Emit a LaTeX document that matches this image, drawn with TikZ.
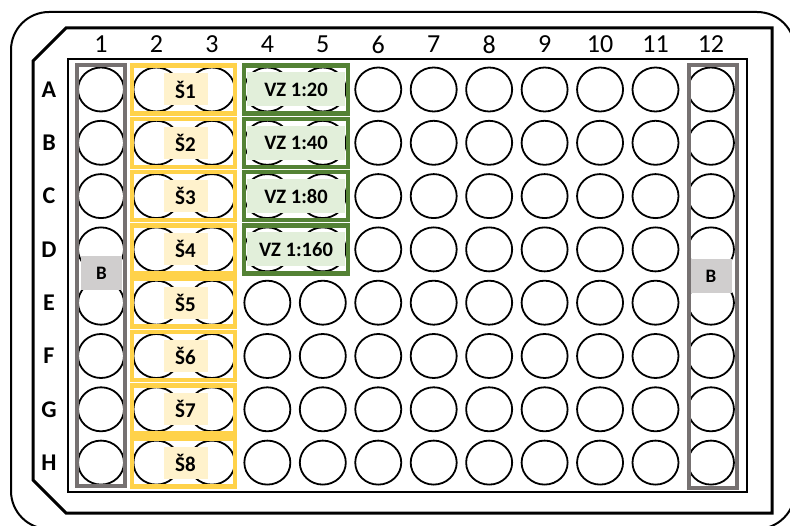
\documentclass[tikz,border=0pt]{standalone}
\usepackage{fontspec}
\setmainfont{Carlito}
\usetikzlibrary{shapes.geometric}
\definecolor{ygold}{HTML}{FFD24A}
\definecolor{ybeige}{HTML}{FFF2CC}
\definecolor{gdark}{HTML}{548235}
\definecolor{glight}{HTML}{E2EFDA}
\definecolor{gborder}{HTML}{767171}
\definecolor{bfill}{HTML}{D0CECE}
\tikzset{
  well/.style={ellipse,draw=black,line width=1.8pt,minimum width=46pt,minimum height=44pt,inner sep=0pt},
  collabel/.style={font=\fontsize{26}{26}\selectfont,inner sep=0pt},
  rowlabel/.style={font=\fontsize{24}{24}\selectfont\bfseries,inner sep=0pt},
  graybox/.style={draw=gborder,line width=4pt,minimum width=48pt,inner sep=0pt},
  yelbox/.style={draw=ygold,line width=4.5pt,minimum width=103pt,minimum height=48pt,inner sep=0pt},
  grnbox/.style={draw=gdark,line width=4.5pt,minimum width=104pt,minimum height=48pt,inner sep=0pt},
  beigelab/.style={fill=ybeige,minimum width=44pt,minimum height=32pt,inner sep=0pt,font=\fontsize{21}{21}\selectfont\bfseries},
  greenlab/.style={fill=glight,minimum width=98pt,minimum height=34pt,inner sep=0pt,font=\fontsize{20.5}{20.5}\selectfont\bfseries},
  blab/.style={fill=bfill,minimum width=41pt,minimum height=34pt,inner sep=0pt,font=\fontsize{19}{19}\selectfont\bfseries}
}
\begin{document}
\begin{tikzpicture}[x=1pt,y=-1pt]
\useasboundingbox (0,0) rectangle (790,526);
\fill[white] (0,0) rectangle (790,526);
% outer frame
\draw[line width=2pt,rounded corners=38pt] (11,12) rectangle (795,529);
% plate frame
\draw[line width=3pt,line join=miter] (66,28) -- (772,28) -- (772,513) -- (66,513) -- (33,480) -- (33,61) -- cycle;
% well area
\draw[line width=1.2pt] (68,59) rectangle (747,492);
% column labels
\foreach \c in {1,...,12}{
  \node[collabel] (col\c) at ({101+(\c-1)*55.45},44.5) {\c};
}
% row labels
\foreach \r [count=\j] in {A,B,C,D,E,F,G,H}{
  \node[rowlabel] (row\r) at (49,{89.5+(\j-1)*53.3}) {\r};
}
% wells
\foreach \j in {1,...,8}{
  \foreach \c in {1,...,12}{
    \node[well] (w\j-\c) at ({101+(\c-1)*55.45},{89.5+(\j-1)*53.3}) {};
  }
}
% gray blank columns
\node[graybox,minimum height=421pt] (gb1) at (101,275.5) {};
\node[graybox,minimum height=423pt] (gb12) at (713,276.5) {};
% yellow standard boxes
\foreach \j in {1,...,8}{
  \node[yelbox] (y\j) at (183.5,{89.5+(\j-1)*53.3}) {};
}
% green sample boxes
\foreach \j in {1,...,4}{
  \node[grnbox] (g\j) at (296,{89.5+(\j-1)*53.3}) {};
}
% standard labels
\foreach \j in {1,...,8}{
  \node[beigelab] (s\j) at (185.5,{89.5+(\j-1)*53.3}) {Š\j};
}
% sample labels
\node[greenlab] (vz1) at (296,89.5) {VZ 1:20};
\node[greenlab] (vz2) at (296,142.8) {VZ 1:40};
\node[greenlab] (vz3) at (296,196.1) {VZ 1:80};
\node[greenlab] (vz4) at (296,249.4) {VZ 1:160};
% blank labels
\node[blab] (b1) at (101.5,273.5) {B};
\node[blab] (b12) at (711,276.5) {B};
\end{tikzpicture}
\end{document}
